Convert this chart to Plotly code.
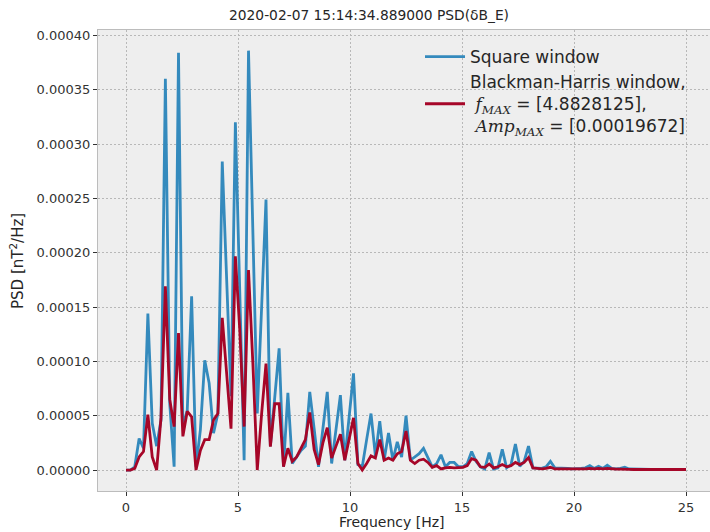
import numpy as np
import plotly.graph_objects as go

# Frequency bins (Hz): 129 bins from 0 to 25 Hz, step 25/128
freq = [i * 25.0 / 128.0 for i in range(129)]

# Square-window PSD, in units of 1e-5 nT^2/Hz
psd_square_e5 = [
    0.0, 0.0, 0.3, 2.9, 2.0, 14.4, 4.3, 2.2, 4.6, 36.0,
    6.1, 0.3, 38.4, 4.0, 5.5, 16.0, 0.3, 3.7, 10.1, 8.0,
    3.4, 5.2, 28.4, 17.5, 6.8, 32.0, 16.0, 0.9, 38.6, 22.1,
    5.2, 15.0, 24.9, 2.2, 6.8, 11.2, 0.3, 7.1, 0.6, 1.2,
    1.8, 2.2, 7.2, 3.8, 0.3, 3.8, 7.2, 0.6, 3.8, 6.9,
    0.9, 5.0, 8.9, 0.5, 0.3, 2.8, 5.2, 1.3, 4.5, 0.9,
    3.4, 0.9, 2.6, 1.2, 5.0, 0.9, 1.2, 1.5, 2.0, 1.2,
    0.3, 0.6, 1.4, 0.3, 0.7, 0.7, 0.3, 0.3, 0.6, 1.7,
    0.8, 0.3, 0.1, 1.6, 0.1, 0.2, 1.9, 0.2, 0.5, 2.4,
    0.35, 0.8, 2.2, 0.2, 0.2, 0.15, 0.3, 0.8, 0.2, 0.2,
    0.15, 0.15, 0.1, 0.1, 0.15, 0.2, 0.4, 0.15, 0.35, 0.15,
    0.45, 0.15, 0.1, 0.15, 0.25, 0.1, 0.08, 0.08, 0.06, 0.06,
    0.05, 0.05, 0.05, 0.05, 0.05, 0.05, 0.05, 0.05, 0.05,
]

# Blackman-Harris-window PSD, in units of 1e-5 nT^2/Hz
psd_bh_e5 = [
    0.0, 0.0, 0.15, 1.2, 1.7, 5.1, 1.2, 0.0, 4.8, 16.9,
    6.5, 4.0, 12.6, 3.1, 5.4, 4.9, 0.0, 1.8, 2.8, 2.8,
    4.6, 5.2, 14.0, 8.9, 3.8, 19.672, 12.9, 4.0, 18.4, 9.8,
    0.0, 5.2, 9.8, 2.15, 6.1, 6.1, 0.3, 2.0, 0.8, 1.2,
    2.0, 2.8, 5.3, 1.9, 0.5, 2.5, 3.9, 1.1, 2.2, 3.3,
    0.9, 2.8, 4.8, 0.6, 0.0, 0.6, 1.3, 1.1, 2.8, 0.9,
    1.1, 0.9, 1.5, 1.7, 3.6, 0.9, 0.6, 0.9, 1.0, 0.7,
    0.25, 0.4, 0.1, 0.2, 0.25, 0.2, 0.25, 0.25, 0.4, 1.05,
    0.9, 0.3, 0.25, 0.55, 0.2, 0.3, 0.5, 0.3, 0.4, 0.7,
    0.5, 0.7, 1.15, 0.2, 0.15, 0.1, 0.15, 0.25, 0.1, 0.1,
    0.1, 0.1, 0.08, 0.08, 0.1, 0.1, 0.15, 0.1, 0.15, 0.1,
    0.15, 0.1, 0.08, 0.08, 0.1, 0.06, 0.05, 0.05, 0.05, 0.05,
    0.05, 0.05, 0.05, 0.05, 0.05, 0.05, 0.05, 0.05, 0.05,
]

psd_square = [v * 1e-5 for v in psd_square_e5]
psd_bh = [v * 1e-5 for v in psd_bh_e5]

x_ticks = [0, 5, 10, 15, 20, 25]
y_ticks = [0.0, 0.00005, 0.0001, 0.00015, 0.0002, 0.00025, 0.0003, 0.00035, 0.0004]

f_max = "4.8828125"
amp_max = "0.00019672"

BLUE = "#348ABD"
RED = "#A60628"
FONT = "DejaVu Sans"
TXT = "#262626"
MATH = '<span style="font-family:DejaVu Serif">'

bh_name = (
    "Blackman-Harris window,<br>"
    f" {MATH}<i>f</i><sub><i>MAX</i></sub></span> = [{f_max}],<br>"
    f" {MATH}<i>Amp</i><sub><i>MAX</i></sub></span> = [{amp_max}]"
)

fig = go.Figure()
fig.add_trace(go.Scatter(x=freq, y=psd_square, mode="lines",
                         line=dict(color=BLUE, width=2.8),
                         name="Square window"))
fig.add_trace(go.Scatter(x=freq, y=psd_bh, mode="lines",
                         line=dict(color=RED, width=2.8),
                         name=bh_name))

axis_common = dict(
    showgrid=True, gridcolor="#b8b8b8", griddash="2px,2px", gridwidth=0.8,
    zeroline=False, showline=True, linecolor="#bcbcbc", linewidth=1.2, mirror=True,
    ticks="outside", ticklen=4, tickcolor="#333333", tickwidth=1,
    tickfont=dict(family=FONT, size=13, color="#333333"),
    automargin=False,
)

fig.update_layout(
    width=710, height=532,
    margin=dict(l=98, r=0, t=30, b=41),
    paper_bgcolor="white", plot_bgcolor="#eeeeee",
    font=dict(family=FONT, size=13, color=TXT),
    title=dict(text="2020-02-07 15:14:34.889000 PSD(δB_E)",
               xref="container", yref="container",
               x=369 / 710, y=1 - 15 / 532, xanchor="center", yanchor="middle",
               font=dict(family=FONT, size=13.8, color=TXT)),
    xaxis=dict(axis_common, range=[-1.25, 26.07], tickvals=x_ticks,
               ticktext=[str(t) for t in x_ticks]),
    yaxis=dict(axis_common, range=[-0.0000193, 0.000405], tickvals=y_ticks,
               tickformat=".5f"),
    legend=dict(x=(420 - 98) / 612, y=1 - (39 - 30) / 461, xanchor="left", yanchor="top",
                bgcolor="rgba(0,0,0,0)", borderwidth=0, itemwidth=40,
                font=dict(family=FONT, size=17, color=TXT),
                valign="middle"),
    showlegend=True,
    annotations=[
        dict(text="Frequency [Hz]", xref="paper", yref="paper",
             x=(392 - 98) / 612, y=-(522 - 491) / 461, xanchor="center", yanchor="middle",
             showarrow=False, font=dict(family=FONT, size=14, color=TXT)),
        dict(text="PSD [nT<sup>2</sup>/Hz]", xref="paper", yref="paper",
             x=-(98 - 17) / 612, y=(491 - 261) / 461, xanchor="center", yanchor="middle",
             textangle=-90, showarrow=False, font=dict(family=FONT, size=15, color=TXT)),
    ],
)

fig.write_html("out.html")
